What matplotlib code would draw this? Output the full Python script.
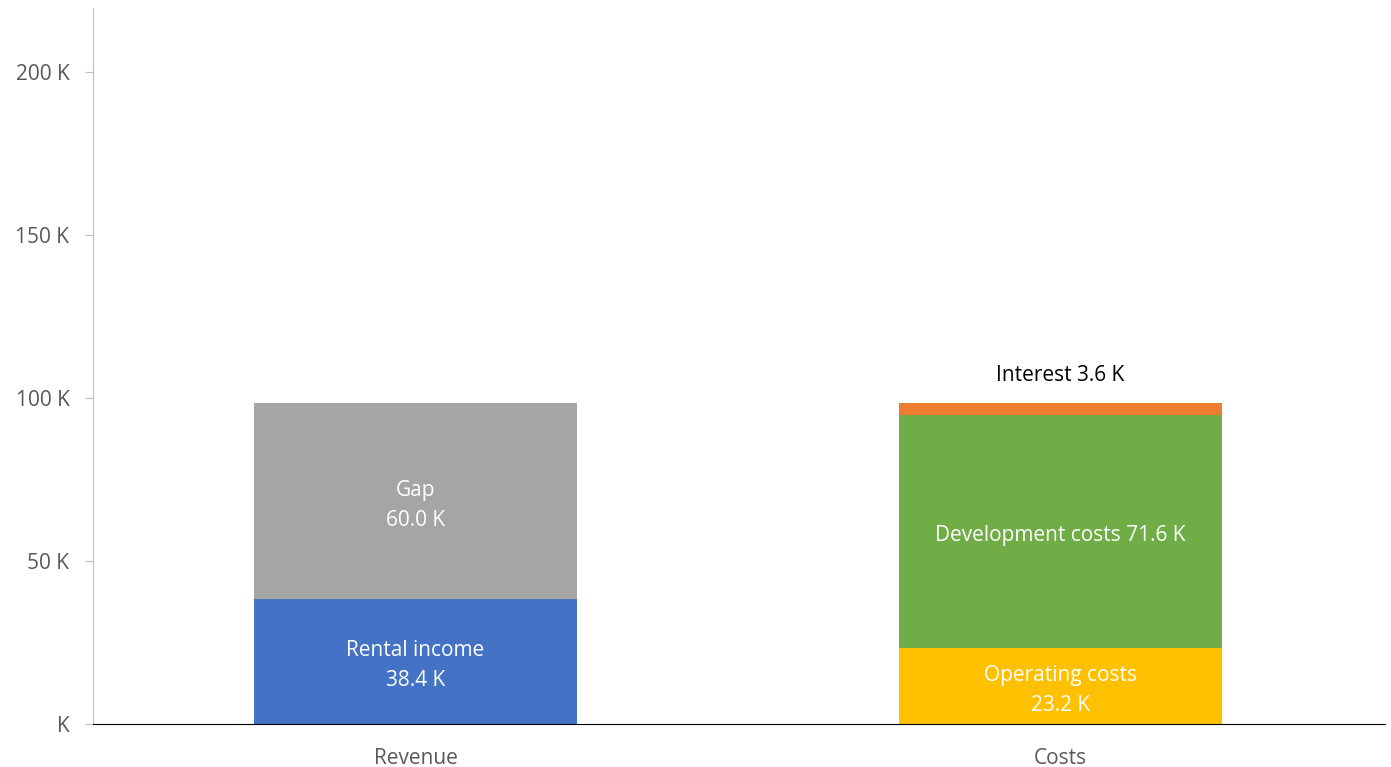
import matplotlib.pyplot as plt
import numpy as np

categories = ['Revenue', 'Costs']

# stacked segments (in K)
rental_income = [38.4, 0]
gap = [60.0, 0]
operating_costs = [0, 23.2]
development_costs = [0, 71.6]
interest = [0, 3.6]

yticks = [0, 50, 100, 150, 200]

plt.rcParams.update({
    'font.family': ['Open Sans', 'DejaVu Sans'],
})

fig = plt.figure(figsize=(13.91, 7.67), dpi=100)
ax = fig.add_axes([93 / 1391, 1 - 724 / 767, (1385 - 93) / 1391, (724 - 8) / 767])

x = np.arange(len(categories))
w = 0.5

b_rent = ax.bar(x, rental_income, w, color='#4472C4')
b_gap = ax.bar(x, gap, w, bottom=rental_income, color='#A5A5A5')
b_op = ax.bar(x, operating_costs, w, color='#FFC000')
b_dev = ax.bar(x, development_costs, w, bottom=operating_costs, color='#70AD47')
bottom_int = np.array(operating_costs) + np.array(development_costs)
b_int = ax.bar(x, interest, w, bottom=bottom_int, color='#ED7D31')

fs = 15
lab = dict(ha='center', va='center', color='white', fontsize=fs, linespacing=1.55)
# nudge labels down a little (offset in points)
def seg_label(xx, yy, txt):
    ax.annotate(txt, (xx, yy), xytext=(0, -3), textcoords='offset points', **lab)

seg_label(x[0], rental_income[0] / 2, f'Rental income\n{rental_income[0]:.1f} K')
seg_label(x[0], rental_income[0] + gap[0] / 2, f'Gap\n{gap[0]:.1f} K')
seg_label(x[1], operating_costs[1] / 2, f'Operating costs\n{operating_costs[1]:.1f} K')
seg_label(x[1], operating_costs[1] + development_costs[1] / 2,
          f'Development costs {development_costs[1]:.1f} K')
ax.annotate(f'Interest {interest[1]:.1f} K', (x[1], bottom_int[1] + interest[1]),
            xytext=(0, 20), textcoords='offset points', ha='center', va='center',
            fontsize=fs, color='black')

ax.set_xlim(-0.5, 1.503)
ax.set_ylim(0, 219.6)
ax.set_xticks(x)
ax.set_xticklabels(categories, fontsize=fs, color='#595959')
ax.set_yticks(yticks)
ax.set_yticklabels([f'{v} K' if v else 'K' for v in yticks], fontsize=fs, color='#595959')
ax.tick_params(axis='x', length=0, pad=17)
ax.tick_params(axis='y', length=6, color='#BFBFBF', pad=11)

for s in ['top', 'right']:
    ax.spines[s].set_visible(False)
ax.spines['left'].set_color('#BFBFBF')
ax.spines['bottom'].set_color('black')

plt.savefig('out.png', dpi=100)
